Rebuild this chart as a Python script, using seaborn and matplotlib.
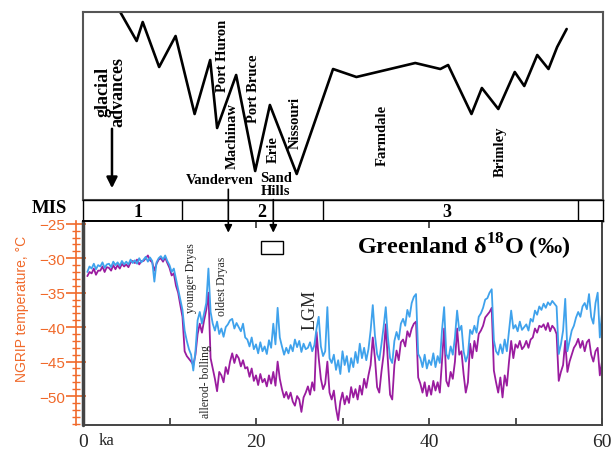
import numpy as np
import matplotlib
matplotlib.use('Agg')
import matplotlib.pyplot as plt
import seaborn as sns
from matplotlib.patches import Rectangle
from matplotlib.ticker import MultipleLocator, FixedLocator

sns.set_style('white')
plt.rcParams['font.family'] = ['Liberation Serif', 'DejaVu Serif']
plt.rcParams['mathtext.fontset'] = 'custom'
plt.rcParams['mathtext.rm'] = 'Liberation Serif:bold'
plt.rcParams['mathtext.bf'] = 'Liberation Serif:bold'

ORANGE = '#f0692a'
BLUE = '#3fa2ec'
PURPLE = '#9a1c9f'

# Glacial advance curve (top panel): age (ka) and relative ice margin position
adv_age = [4.3, 6.2, 6.9, 8.8, 10.7, 12.9, 14.7, 15.5, 17.7, 19.9, 21.6, 24.7, 28.9,
           31.6, 38.4, 41.3, 42.2, 44.9, 46.1, 48.0, 49.9, 51.0, 52.5, 53.8, 54.8, 55.9]
adv_level = [187, 158, 177, 132, 163, 85, 139, 71, 124, 28, 94, 25, 130,
             122, 136, 130, 134, 85, 111, 90, 127, 113, 144, 130, 152, 170]

# MIS stages
mis_bounds = [11.4, 27.7, 57.2]
mis_names = ['1', '2', '3']
mis_centres = [6.4, 20.7, 42.0]

# NGRIP temperature (deg C), sampled every 0.25 ka from 0.5 to 60 ka
ages = np.round(np.arange(0.5, 60.001, 0.25), 2)
temp_blue = [
    -32.0, -31.2,
    -31.5, -30.8, -31.6, -31.0,
    -31.2, -30.6, -31.4, -30.9,
    -30.8, -31.3, -30.5, -31.0,
    -30.6, -31.1, -30.4, -30.9,
    -30.5, -30.9, -30.2, -30.7,
    -30.3, -30.8, -30.0, -30.6,
    -30.2, -29.8, -30.5, -29.9,
    -30.4, -33.4, -30.6, -30.0,
    -29.7, -30.2, -29.6, -30.4,
    -31.0, -32.0, -31.5, -33.0,
    -34.5, -36.0, -37.5, -40.5,
    -42.0, -43.2, -44.0, -46.3,
    -43.5, -39.0, -37.8, -39.5,
    -38.0, -36.5, -31.5, -37.8,
    -39.5, -40.5, -39.2, -41.0,
    -40.2, -41.4, -40.0, -39.6,
    -39.0, -38.8, -40.2, -39.4,
    -40.0, -40.6, -39.5, -41.5,
    -41.8, -42.8, -41.5, -43.2,
    -42.5, -43.8, -42.2, -43.5,
    -42.8, -43.9, -41.9, -43.0,
    -39.5, -42.5, -37.2, -41.5,
    -42.8, -44.0, -43.0, -43.8,
    -42.6, -43.5, -41.8, -42.9,
    -42.0, -43.6, -42.4, -43.2,
    -43.0, -42.2, -43.5, -42.6,
    -40.2, -38.5, -42.8, -44.2,
    -43.5, -37.1, -44.5, -45.2,
    -44.0, -46.2, -44.8, -46.8,
    -43.5, -45.5, -44.2, -46.5,
    -44.5, -45.8, -43.6, -45.2,
    -42.4, -44.5, -43.0, -44.8,
    -43.2, -40.5, -36.8, -41.2,
    -43.9, -44.8, -42.5, -40.0,
    -37.1, -41.5, -44.5, -45.2,
    -42.0, -40.7, -41.8, -39.5,
    -38.8, -39.8, -37.5, -38.5,
    -36.5, -35.6, -35.2, -43.9,
    -44.5, -45.8, -44.0, -46.0,
    -44.8, -45.5, -43.8, -45.8,
    -44.2, -45.2, -40.5, -37.1,
    -43.9, -44.6, -42.8, -44.0,
    -41.5, -37.6, -40.5, -39.8,
    -43.5, -45.0, -44.0, -40.4,
    -41.0, -39.8, -40.8, -38.5,
    -38.0, -37.2, -36.0, -35.8,
    -35.0, -34.5, -41.9, -43.5,
    -44.0, -42.5, -43.8, -41.8,
    -43.5, -40.5, -37.6, -40.2,
    -39.7, -40.6, -39.2, -40.4,
    -40.0, -39.6, -40.5, -38.8,
    -39.2, -37.6, -38.2, -37.0,
    -37.5, -36.6, -37.2, -36.4,
    -36.8, -36.2, -36.6, -37.0,
    -43.9, -42.5, -40.5, -35.9,
    -43.5, -42.0, -40.5, -39.8,
    -38.6, -37.8, -38.5, -37.0,
    -36.5, -37.4, -35.2, -38.5,
    -39.5, -36.5, -35.0, -41.5,
    -38.0,
]
temp_purple = [
    -32.6, -32.0,
    -32.2, -31.5, -32.4, -31.8,
    -31.8, -31.2, -32.0, -31.3,
    -31.4, -31.8, -31.0, -31.6,
    -31.0, -31.5, -30.8, -31.2,
    -30.9, -31.3, -30.6, -30.4,
    -30.7, -30.2, -30.9, -30.4,
    -30.4, -30.0, -29.6, -30.3,
    -30.6, -31.8, -30.8, -30.2,
    -30.0, -30.5, -29.9, -30.7,
    -31.4, -32.5, -32.2, -34.0,
    -35.0, -36.8, -38.5, -43.5,
    -44.2, -44.6, -45.0, -45.5,
    -44.0, -41.0, -39.5, -40.8,
    -39.0, -37.5, -35.0, -44.5,
    -46.0, -47.5, -49.3, -46.5,
    -47.0, -48.0, -45.8, -46.8,
    -45.0, -43.8, -45.2, -44.0,
    -44.5, -45.7, -44.8, -46.0,
    -45.8, -47.2, -46.0, -47.8,
    -47.0, -48.4, -46.8, -48.0,
    -47.5, -48.6, -47.0, -48.2,
    -46.5, -48.5, -45.0, -47.5,
    -49.0, -50.2, -49.4, -50.4,
    -49.5, -50.8, -51.4, -50.0,
    -50.5, -52.3, -50.2, -49.5,
    -48.6, -49.8, -48.0, -49.2,
    -40.7, -44.5, -47.5, -49.0,
    -48.2, -45.0, -49.5, -50.5,
    -49.2, -51.8, -53.5, -50.8,
    -49.5, -51.2, -50.0, -51.0,
    -48.7, -50.2, -49.0, -50.5,
    -48.5, -49.8, -47.5, -48.8,
    -47.0, -45.5, -41.5, -44.5,
    -48.7, -49.5, -46.5, -44.0,
    -39.6, -45.0, -49.8, -50.5,
    -45.5, -43.4, -44.8, -42.2,
    -41.8, -42.8, -40.6, -41.4,
    -40.2, -39.5, -39.2, -47.3,
    -48.2, -49.5, -48.0, -50.0,
    -48.5, -49.8, -47.8, -49.2,
    -48.0, -49.5, -45.0, -40.2,
    -47.8, -48.6, -46.5, -47.5,
    -45.0, -40.2, -44.0, -43.5,
    -46.8, -49.5, -48.0, -42.4,
    -44.5, -42.0, -43.5, -41.0,
    -40.5, -39.8, -38.6, -38.2,
    -37.8, -37.2, -46.3, -48.0,
    -49.5, -47.3, -50.2, -47.0,
    -48.5, -45.0, -42.0, -44.5,
    -42.5, -43.0, -42.0, -43.2,
    -42.8, -42.0, -43.0, -41.8,
    -41.5, -40.2, -40.8, -39.8,
    -40.0, -39.6, -40.4, -39.4,
    -40.6, -39.8, -40.2, -41.0,
    -47.8, -46.5, -45.5, -42.0,
    -46.5, -45.0, -44.0, -43.0,
    -42.5, -41.7, -43.0, -42.0,
    -43.5, -42.2, -41.8, -44.0,
    -45.0, -43.5, -43.0, -47.0,
    -45.0,
]

W, H = 616, 452
fig = plt.figure(figsize=(W / 100, H / 100), dpi=100)
ax_top = fig.add_axes([83 / W, 1 - 201 / H, 520 / W, 188 / H])
ax_mis = fig.add_axes([83 / W, 1 - 222 / H, 520 / W, 21 / H])
ax = fig.add_axes([83 / W, 1 - 426 / H, 519 / W, 204 / H])

# ---- top panel: glacial advances ----
sns.lineplot(x=adv_age, y=adv_level, ax=ax_top, color='black', lw=1.9,
             sort=False, estimator=None)
ax_top.set_xlim(0, 60.1)
ax_top.set_ylim(-1, 187)
ax_top.set_xticks([])
ax_top.set_yticks([])
ax_top.set_xlabel('')
ax_top.set_ylabel('')
for s in ax_top.spines.values():
    s.set_color('#555555')
    s.set_linewidth(1.5)

bold = dict(fontweight='bold', color='black')
ax_top.text(3.2, 108, 'glacial\nadvances', rotation=90, ha='center', va='center',
            fontsize=13, linespacing=0.85, **bold)
ax_top.annotate('', xy=(3.35, 8), xytext=(3.35, 73),
                arrowprops=dict(arrowstyle='-|>', color='black', lw=1.8, mutation_scale=16))
for name, x, y in [('Port Huron', 16.1, 144), ('Machinaw', 17.3, 64),
                   ('Port Bruce', 19.7, 111), ('Erie', 22.0, 50),
                   ('Nissouri', 24.5, 77), ('Farmdale', 34.6, 65), ('Brimley', 48.2, 48)]:
    ax_top.text(x, y, name, rotation=90, ha='center', va='center', fontsize=10.5, **bold)
ax_top.text(15.8, 20, 'Vanderven', ha='center', va='center', fontsize=10.5, **bold)
ax_top.text(22.3, 15, 'Sand\nHills', ha='center', va='center', fontsize=10.5,
            linespacing=0.95, **bold)

# ---- MIS band ----
ax_mis.set_xlim(0, 60.1)
ax_mis.set_ylim(0, 1)
ax_mis.set_xticks([])
ax_mis.set_yticks([])
for s in ax_mis.spines.values():
    s.set_color('black')
    s.set_linewidth(1.0)
for b in mis_bounds:
    ax_mis.axvline(b, color='black', lw=1.0)
for name, x in zip(mis_names, mis_centres):
    ax_mis.text(x, 0.45, name, ha='center', va='center', fontsize=13, **bold)
ax_mis.text(-3.9, 0.62, 'MIS', ha='center', va='center', fontsize=13.5,
            clip_on=False, **bold)

# ---- lower panel: NGRIP temperature ----
sns.lineplot(x=ages, y=temp_purple, ax=ax, color=PURPLE, lw=1.3, estimator=None)
sns.lineplot(x=ages, y=temp_blue, ax=ax, color=BLUE, lw=1.3, estimator=None)
ax.set_xlim(0, 60)
ax.set_ylim(-54.2, -24.6)

for side in ['top', 'right', 'bottom']:
    ax.spines[side].set_color('#444444')
    ax.spines[side].set_linewidth(1.4)
ax.spines['top'].set_color('black')
ax.spines['left'].set_position(('outward', 5))
ax.spines['left'].set_color(ORANGE)
ax.spines['left'].set_linewidth(1.2)
ax.axvline(0, color='#444444', lw=2.5, clip_on=False)

ax.set_yticks(range(-50, -24, 5))
ax.yaxis.set_minor_locator(MultipleLocator(1))
ax.tick_params(axis='y', which='major', left=True, direction='inout', length=14,
               width=1.2, color=ORANGE, labelcolor=ORANGE, labelsize=11, pad=1)
ax.tick_params(axis='y', which='minor', left=True, direction='inout', length=6,
               width=1.0, color=ORANGE)
for lbl in ax.get_yticklabels():
    lbl.set_fontfamily(['Liberation Sans', 'DejaVu Sans'])

ax.set_xticks([0, 20, 40, 60])
ax.set_xticklabels(['0', '20', '40', '60'])
ax.xaxis.set_minor_locator(FixedLocator([10, 30, 50]))
ax.tick_params(axis='x', which='major', bottom=True, top=True, direction='in',
               length=5, width=1.2, color='#333333', labelsize=14, pad=6)
ax.tick_params(axis='x', which='minor', bottom=True, direction='in', length=5,
               width=1.2, color='#333333')
ax.text(2.66, -0.075, 'ka', transform=ax.get_xaxis_transform(), ha='center',
        va='center', fontsize=12)

ax.set_xlabel('')
ax.set_ylabel('NGRIP temperature, °C', color=ORANGE, fontsize=10,
              fontfamily=['Liberation Sans', 'DejaVu Sans'])
ax.yaxis.set_label_coords(-0.104, 0.574)

ax.text(44.0, -28.2, 'Greenland δ$^{\\mathbf{18}}$O (‰)', ha='center', va='center',
        fontsize=17.5, **bold)
ax.text(12.5, -32.7, 'younger Dryas', rotation=90, ha='center', va='center', fontsize=8.5)
ax.text(16.1, -34.0, 'oldest Dryas', rotation=90, ha='center', va='center', fontsize=8.5)
ax.text(14.2, -47.8, 'allerod- bolling', rotation=90, ha='center', va='center', fontsize=8.5)
ax.text(26.2, -37.4, 'LGM', rotation=90, ha='center', va='center', fontsize=13)

ax.add_patch(Rectangle((20.6, -29.4), 2.5, 1.9, fill=False, ec='black', lw=1.0))
for x, y0 in [(16.8, -19.6), (22.0, -21.1)]:
    ax.annotate('', xy=(x, -26.7), xytext=(x, y0), annotation_clip=False,
                arrowprops=dict(arrowstyle='-|>', color='black', lw=1.2,
                                mutation_scale=11))

fig.savefig('out.png', dpi=100)
